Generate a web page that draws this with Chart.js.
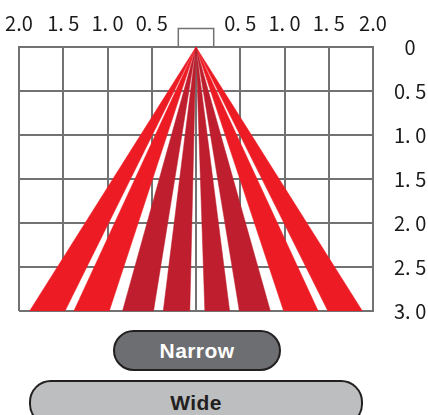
<!DOCTYPE html>
<html>
<head>
<meta charset="utf-8">
<script src="https://cdn.jsdelivr.net/npm/chart.js@4/dist/chart.umd.min.js"></script>
<style>
  html, body { margin: 0; padding: 0; background: #fff; }
  body { width: 428px; height: 415px; position: relative; overflow: hidden; }
  #beam { position: absolute; left: 0; top: 0; }
  .pill {
    position: absolute; box-sizing: border-box;
    border: 2px solid #231f20; border-radius: 22px;
    font-family: "Liberation Sans", Arial, sans-serif; font-weight: bold;
    font-size: 21px; letter-spacing: 0.4px; text-align: center;
  }
  #narrow { left: 113px; top: 330px; width: 168px; height: 41px; line-height: 37px; background: #6d6e71; color: #fff; }
  #wide { left: 29px; top: 380px; width: 334px; height: 46px; line-height: 42px; background: #bcbec0; color: #231f20; }
</style>
</head>
<body>
<canvas id="beam" width="428" height="325"></canvas>
<div class="pill" id="narrow">Narrow</div>
<div class="pill" id="wide">Wide</div>
<script>
// beam spread (m) at 3.0 m distance, left and right edge of each wedge
const wedgeLeft  = [-1.88, -1.38, -0.83, -0.37, 0.10, 0.49, 0.99, 1.49];
const wedgeRight = [-1.48, -0.98, -0.48, -0.07, 0.38, 0.84, 1.38, 1.88];
const wedgeType  = ['wide', 'wide', 'narrow', 'narrow', 'narrow', 'narrow', 'wide', 'wide'];
const distance = 3.0;

const xTickLabels = ['2.0', '1. 5', '1. 0', '0. 5', '', '0. 5', '1. 0', '1. 5', '2.0'];
const yTickLabels = ['0', '0. 5', '1. 0', '1. 5', '2. 0', '2. 5', '3. 0'];

const colors = { wide: '#ed1c24', narrow: '#be1e2d' };
const gridGrey = '#727272';

let datasets = wedgeLeft.map((l, i) => {
  return {
    data: [{x: 0, y: 0}, {x: l, y: distance}, {x: wedgeRight[i], y: distance}, {x: 0, y: 0}],
    backgroundColor: colors[wedgeType[i]],
    borderColor: colors[wedgeType[i]],
    borderWidth: 0.5,
    fill: 'shape',
    showLine: true,
    pointRadius: 0,
    tension: 0
  };
});

// sensor box sitting on top of the grid
datasets.push({
  data: [{x: -0.2, y: 0}, {x: -0.2, y: -0.21}, {x: 0.2, y: -0.21}, {x: 0.2, y: 0}],
  borderColor: gridGrey,
  borderWidth: 1.5,
  fill: false,
  showLine: true,
  pointRadius: 0,
  clip: false
});

const tickFont = { family: '"Noto Sans CJK JP", sans-serif', size: 20 };

const config = {
  type: 'scatter',
  data: { datasets: datasets },
  options: {
    responsive: false,
    animation: false,
    layout: { padding: { left: 19, right: 0, top: 0, bottom: 14 } },
    plugins: { legend: { display: false }, tooltip: { enabled: false } },
    scales: {
      x: {
        position: 'top',
        min: -2, max: 2,
        afterFit: (s) => { s.height = 47; s.paddingLeft = 0; s.paddingRight = 0; },
        border: { color: gridGrey, width: 2 },
        grid: { color: gridGrey, lineWidth: 2, drawTicks: false },
        ticks: {
          stepSize: 0.5,
          padding: 12,
          maxRotation: 0,
          autoSkip: false,
          color: '#1a1a1a',
          font: tickFont,
          callback: (v) => xTickLabels[Math.round((v + 2) * 2)]
        }
      },
      y: {
        position: 'right',
        reverse: true,
        min: 0, max: 3,
        afterFit: (s) => { s.width = 55; s.paddingTop = 0; s.paddingBottom = 0; },
        border: { color: gridGrey, width: 2 },
        grid: { color: gridGrey, lineWidth: 2, drawTicks: false },
        ticks: {
          stepSize: 0.5,
          padding: 21,
          crossAlign: 'center',
          color: '#1a1a1a',
          font: tickFont,
          callback: (v) => yTickLabels[Math.round(v * 2)]
        }
      }
    }
  }
};

const beamChart = new Chart(document.getElementById('beam'), config);
</script>
</body>
</html>
